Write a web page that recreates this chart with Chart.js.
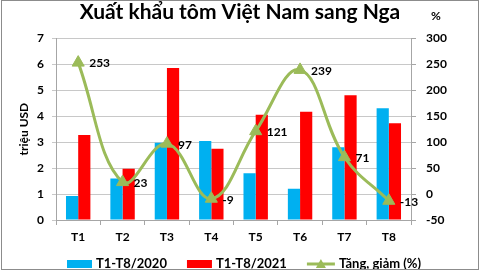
<!DOCTYPE html>
<html>
<head>
<meta charset="utf-8">
<script src="https://cdn.jsdelivr.net/npm/chart.js@4.4.0/dist/chart.umd.min.js"></script>
<style>
  html, body { margin: 0; padding: 0; background: #fff; }
  #wrap { width: 480px; height: 270px; }
</style>
</head>
<body>
<div id="wrap"><canvas id="myChart"></canvas></div>
<script>
const months = ['T1', 'T2', 'T3', 'T4', 'T5', 'T6', 'T7', 'T8'];
const export2020 = [0.92, 1.6, 2.97, 3.04, 1.8, 1.2, 2.8, 4.3];
const export2021 = [3.27, 1.97, 5.85, 2.74, 4.05, 4.17, 4.8, 3.73];
const changePct = [253, 23, 97, -9, 121, 239, 71, -13];

const FONT = 'Lato, "Liberation Sans", sans-serif';
const GREEN = '#9BBB59';

// value labels next to line points, "%" above right axis, legend, frame
const extras = {
    id: 'extras',
    afterDatasetsDraw(chart) {
        const ctx = chart.ctx;
        const meta = chart.getDatasetMeta(2);
        ctx.save();
        ctx.font = 'bold 12px ' + FONT;
        ctx.fillStyle = '#000';
        ctx.textAlign = 'left';
        ctx.textBaseline = 'middle';
        meta.data.forEach(function (pt, i) {
            ctx.fillText(String(changePct[i]), pt.x + 11, pt.y + 1);
        });
        ctx.restore();
    },
    afterDraw(chart) {
        const ctx = chart.ctx;
        ctx.save();
        ctx.font = 'bold 12px ' + FONT;
        ctx.fillStyle = '#000';
        ctx.textAlign = 'center';
        ctx.textBaseline = 'middle';
        ctx.fillText('%', 436, 16);

        // legend
        ctx.font = 'bold 13px ' + FONT;
        ctx.textAlign = 'left';
        const ds = chart.data.datasets;
        const boxW = 25, lineW = 28, gap = 4, itemGap = 20, y = 264;
        let total = 0;
        ds.forEach(function (d, i) {
            total += (d.type === 'line' ? lineW : boxW) + gap + ctx.measureText(d.label).width;
            if (i < ds.length - 1) total += itemGap;
        });
        let x = Math.round(chart.width / 2 - total / 2) + 4;
        ds.forEach(function (d) {
            if (d.type === 'line') {
                ctx.strokeStyle = d.borderColor;
                ctx.lineWidth = 3;
                ctx.beginPath();
                ctx.moveTo(x, y);
                ctx.lineTo(x + lineW, y);
                ctx.stroke();
                const cx = x + lineW / 2;
                ctx.fillStyle = d.borderColor;
                ctx.beginPath();
                ctx.moveTo(cx, y - 5);
                ctx.lineTo(cx + 5, y + 4);
                ctx.lineTo(cx - 5, y + 4);
                ctx.closePath();
                ctx.fill();
                x += lineW + gap;
            } else {
                ctx.fillStyle = d.backgroundColor;
                ctx.fillRect(x, y - 4, boxW, 8);
                x += boxW + gap;
            }
            ctx.fillStyle = '#000';
            ctx.fillText(d.label, x, y);
            x += ctx.measureText(d.label).width + itemGap;
        });

        ctx.strokeStyle = '#8c8c8c';
        ctx.lineWidth = 1;
        ctx.strokeRect(1.5, 0.5, chart.width - 3, chart.height - 1);
        ctx.restore();
    }
};

new Chart(document.getElementById('myChart'), {
    data: {
        labels: months,
        datasets: [{
                type: 'bar',
                label: 'T1-T8/2020',
                data: export2020,
                backgroundColor: '#00B0F0',
                yAxisID: 'y',
                categoryPercentage: 0.55,
                barPercentage: 1,
                order: 2
            },
            {
                type: 'bar',
                label: 'T1-T8/2021',
                data: export2021,
                backgroundColor: '#FF0000',
                yAxisID: 'y',
                categoryPercentage: 0.55,
                barPercentage: 1,
                order: 2
            },
            {
                type: 'line',
                label: 'Tăng, giảm (%)',
                data: changePct,
                borderColor: GREEN,
                backgroundColor: GREEN,
                borderWidth: 3,
                tension: 0.4,
                pointStyle: 'triangle',
                pointRadius: 7,
                pointBorderWidth: 1,
                yAxisID: 'y1',
                order: 1
            }]
    },
    options: {
        responsive: true,
        maintainAspectRatio: false,
        animation: false,
        layout: { padding: { top: 0, right: 0, bottom: 0, left: 0 } },
        plugins: {
            tooltip: { enabled: false },
            legend: { display: false },
            title: {
                display: true,
                text: 'Xuất khẩu tôm Việt Nam sang Nga',
                color: '#000',
                font: { family: FONT, size: 21, weight: 'bold' },
                padding: { top: 0, bottom: 13 }
            }
        },
        scales: {
            x: {
                grid: { display: true, drawOnChartArea: false, offset: true, tickLength: 5, color: '#a6a6a6' },
                border: { color: '#a6a6a6' },
                ticks: { color: '#000', font: { family: FONT, size: 12, weight: 'bold' }, padding: 5 },
                afterFit: function (scale) { scale.height = 50; }
            },
            y: {
                position: 'left',
                min: 0,
                max: 7,
                ticks: { stepSize: 1, color: '#000', font: { family: FONT, size: 12, weight: 'bold' }, padding: 8 },
                grid: { color: '#c8c8c8', tickLength: 4 },
                border: { color: '#a6a6a6' },
                title: {
                    display: true,
                    text: 'triệu USD',
                    color: '#000',
                    font: { family: FONT, size: 12, weight: 'bold' },
                    padding: { top: 17, bottom: 0 }
                },
                afterFit: function (scale) { scale.width = 56; }
            },
            y1: {
                position: 'right',
                min: -50,
                max: 300,
                ticks: { stepSize: 50, color: '#000', font: { family: FONT, size: 12, weight: 'bold' }, padding: 10 },
                grid: { drawOnChartArea: false, tickLength: 5, color: '#a6a6a6' },
                border: { color: '#a6a6a6' },
                afterFit: function (scale) { scale.width = 69; }
            }
        }
    },
    plugins: [extras]
});
</script>
</body>
</html>
